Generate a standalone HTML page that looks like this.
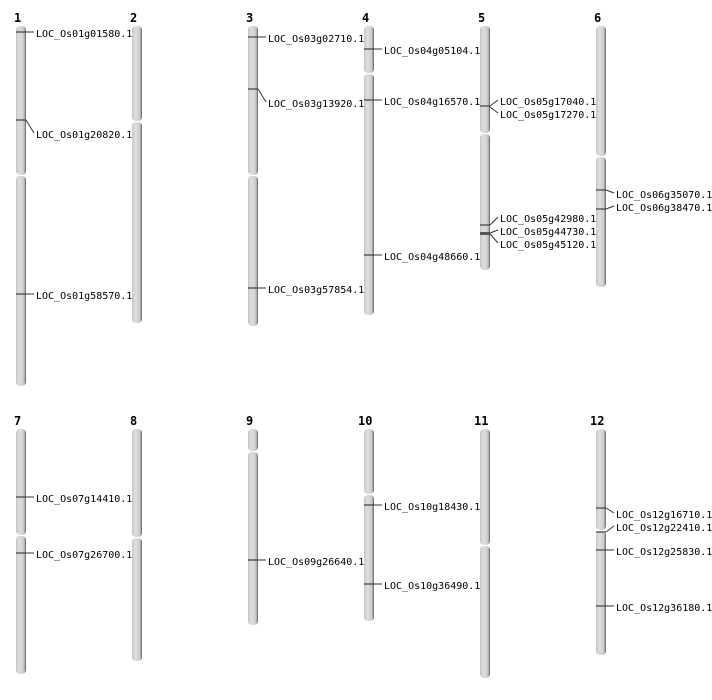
<!DOCTYPE html>
<html><head><meta charset="utf-8"><style>
html,body{margin:0;padding:0;background:#fff;}
svg{display:block;}
.n{font-family:"DejaVu Sans Mono","Liberation Mono",monospace;font-size:12px;font-weight:bold;fill:#000;}
.l{font-family:"DejaVu Sans Mono","Liberation Mono",monospace;font-size:10px;fill:#000;}
.m{stroke:#444;stroke-width:1.3;fill:none;}
.c{stroke:#333;stroke-width:1;fill:none;}
</style></head><body>
<svg width="712" height="700" viewBox="0 0 712 700" xmlns="http://www.w3.org/2000/svg">
<defs>
<linearGradient id="g" x1="0" x2="1" y1="0" y2="0">
<stop offset="0" stop-color="#c4c4c4"/><stop offset="0.3" stop-color="#dedede"/><stop offset="0.7" stop-color="#d2d2d2"/><stop offset="0.88" stop-color="#a8a8a8"/><stop offset="1" stop-color="#555"/>
</linearGradient>
</defs>
<g fill="url(#g)">
<rect x="16" y="26" width="10" height="149" rx="4"/><rect x="16" y="176" width="10" height="210" rx="4"/>
<rect x="132" y="26" width="10" height="95" rx="4"/><rect x="132" y="122" width="10" height="201" rx="4"/>
<rect x="248" y="26" width="10" height="149" rx="4"/><rect x="248" y="176" width="10" height="150" rx="4"/>
<rect x="364" y="26" width="10" height="47" rx="4"/><rect x="364" y="74" width="10" height="241" rx="4"/>
<rect x="480" y="26" width="10" height="107" rx="4"/><rect x="480" y="134" width="10" height="136" rx="4"/>
<rect x="596" y="26" width="10" height="130" rx="4"/><rect x="596" y="157" width="10" height="130" rx="4"/>
<rect x="16" y="429" width="10" height="106" rx="4"/><rect x="16" y="536" width="10" height="138" rx="4"/>
<rect x="132" y="429" width="10" height="108" rx="4"/><rect x="132" y="538" width="10" height="123" rx="4"/>
<rect x="248" y="429" width="10" height="22" rx="4"/><rect x="248" y="452" width="10" height="173" rx="4"/>
<rect x="364" y="429" width="10" height="65" rx="4"/><rect x="364" y="495" width="10" height="126" rx="4"/>
<rect x="480" y="429" width="10" height="116" rx="4"/><rect x="480" y="546" width="10" height="132" rx="4"/>
<rect x="596" y="429" width="10" height="101" rx="4"/><rect x="596" y="531" width="10" height="124" rx="4"/>
</g>
<g>
<text class="n" x="14" y="22">1</text><text class="n" x="130" y="22">2</text><text class="n" x="246" y="22">3</text>
<text class="n" x="362" y="22">4</text><text class="n" x="478" y="22">5</text><text class="n" x="594" y="22">6</text>
<text class="n" x="14" y="425">7</text><text class="n" x="130" y="425">8</text><text class="n" x="246" y="425">9</text>
<text class="n" x="358" y="425">10</text><text class="n" x="474" y="425">11</text><text class="n" x="590" y="425">12</text>
</g>
<g class="m">
<path d="M16 32H26M16 120H26M16 294H26"/>
<path d="M248 37H258M248 89H258M248 288H258"/>
<path d="M364 49H374M364 100H374M364 255H374"/>
<path d="M480 106H490M480 225H490"/>
<path d="M596 190H606M596 209H606"/>
<path d="M16 497H26M16 553H26"/>
<path d="M248 560H258"/>
<path d="M364 505H374M364 584H374"/>
<path d="M596 508H606M596 532H606M596 550H606M596 606H606"/>
</g>
<rect x="480" y="232" width="10" height="3" fill="#555"/>
<g class="c">
<path d="M26 32H34M26 120L34 133M26 294H34"/>
<path d="M258 37H266M258 89L266 102M258 288H266"/>
<path d="M374 49H382M374 100H382M374 255H382"/>
<path d="M490 106L498 100M490 107L498 113M490 225L498 217M490 233L498 230M490 234L498 243"/>
<path d="M606 190L614 193M606 209L614 206"/>
<path d="M26 497H34M26 553H34"/>
<path d="M258 560H266"/>
<path d="M374 505H382M374 584H382"/>
<path d="M606 508L614 513M606 532L614 526M606 550H614M606 606H614"/>
</g>
<g class="l">
<text x="36" y="37">LOC_Os01g01580.1</text>
<text x="36" y="138">LOC_Os01g20820.1</text>
<text x="36" y="299">LOC_Os01g58570.1</text>
<text x="268" y="42">LOC_Os03g02710.1</text>
<text x="268" y="107">LOC_Os03g13920.1</text>
<text x="268" y="293">LOC_Os03g57854.1</text>
<text x="384" y="54">LOC_Os04g05104.1</text>
<text x="384" y="105">LOC_Os04g16570.1</text>
<text x="384" y="260">LOC_Os04g48660.1</text>
<text x="500" y="105">LOC_Os05g17040.1</text>
<text x="500" y="118">LOC_Os05g17270.1</text>
<text x="500" y="222">LOC_Os05g42980.1</text>
<text x="500" y="235">LOC_Os05g44730.1</text>
<text x="500" y="248">LOC_Os05g45120.1</text>
<text x="616" y="198">LOC_Os06g35070.1</text>
<text x="616" y="211">LOC_Os06g38470.1</text>
<text x="36" y="502">LOC_Os07g14410.1</text>
<text x="36" y="558">LOC_Os07g26700.1</text>
<text x="268" y="565">LOC_Os09g26640.1</text>
<text x="384" y="510">LOC_Os10g18430.1</text>
<text x="384" y="589">LOC_Os10g36490.1</text>
<text x="616" y="518">LOC_Os12g16710.1</text>
<text x="616" y="531">LOC_Os12g22410.1</text>
<text x="616" y="555">LOC_Os12g25830.1</text>
<text x="616" y="611">LOC_Os12g36180.1</text>
</g>
</svg>
</body></html>
